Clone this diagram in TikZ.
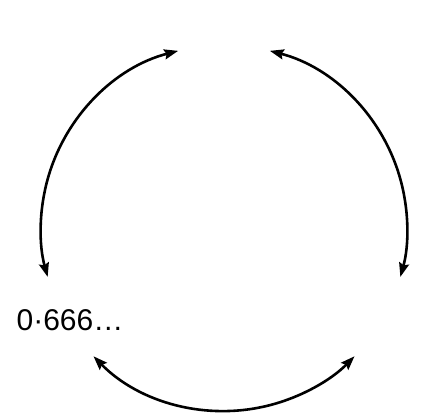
\documentclass[tikz,border=0pt]{standalone}
\usepackage{fontspec}
\setmainfont{Liberation Sans}
\usetikzlibrary{arrows.meta,calc}
\begin{document}
\begin{tikzpicture}[x=1pt,y=1pt,
  cyc/.style={line width=2.6pt, {Stealth[length=14pt,width=10pt,inset=2pt]}-{Stealth[length=14pt,width=10pt,inset=2pt]}},
  lbl/.style={font=\fontsize{30}{36}\selectfont, inner sep=0pt}]
\useasboundingbox (0,0) rectangle (422,-412);
\coordinate (c) at (224,-228);
\node[lbl] (a) at (70,-320) {0·666…};
\draw[cyc] (c) ++(104.5:183) arc[start angle=104.5, end angle=195.5, radius=183];
\draw[cyc] (c) ++(75.5:183) arc[start angle=75.5, end angle=-15.5, radius=183];
\draw[cyc] (c) ++(224.5:183) arc[start angle=224.5, end angle=315.5, radius=183];
\end{tikzpicture}
\end{document}
